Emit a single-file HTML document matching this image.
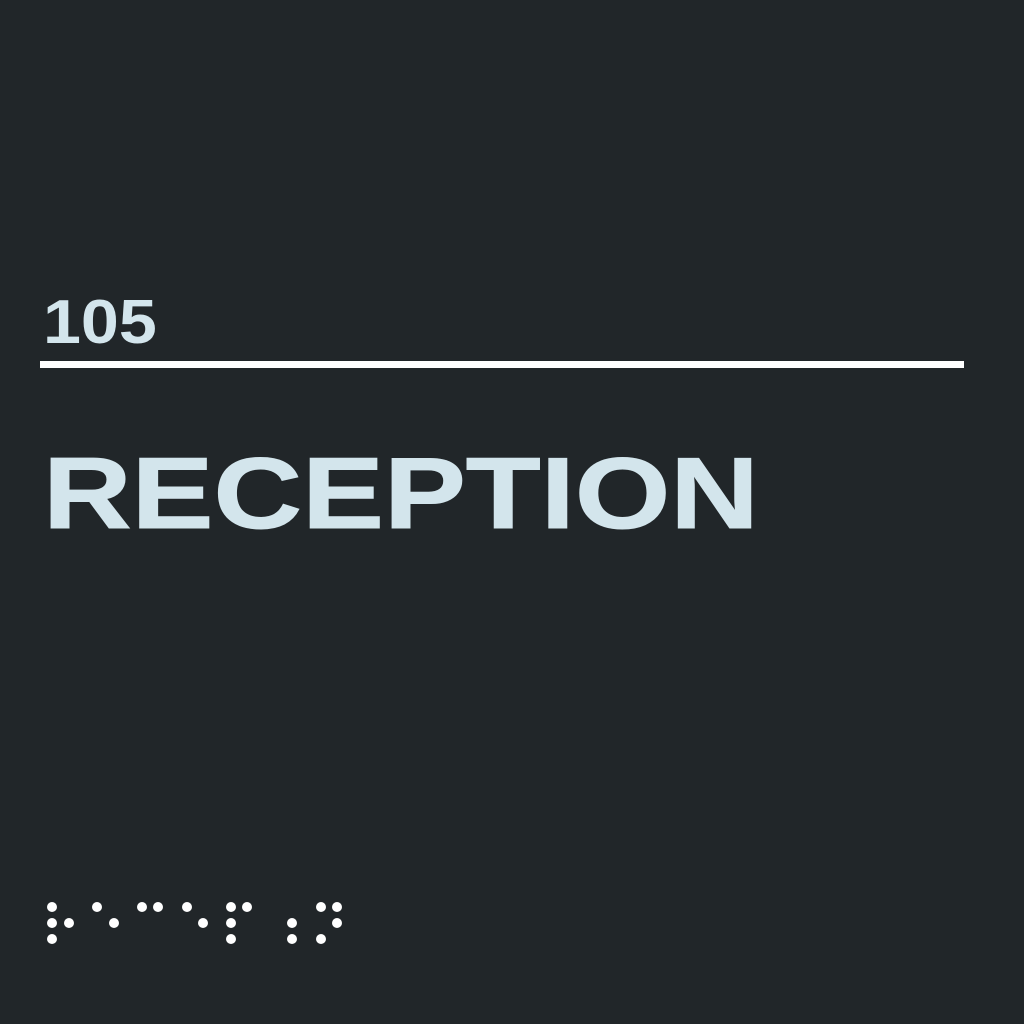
<!DOCTYPE html>
<html><head><meta charset="utf-8"><style>
html,body{margin:0;padding:0;}
body{width:1024px;height:1024px;background:#212629;position:relative;overflow:hidden;font-family:"Liberation Sans",Arial,sans-serif;}
.t{position:absolute;color:#d3e5ec;font-weight:bold;white-space:nowrap;transform-origin:0 0;line-height:1;}
</style></head><body>
<div class="t" style="left:43px;top:292px;font-size:62px;transform:scaleX(1.1);">105</div>
<div style="position:absolute;left:40px;top:361px;width:924px;height:7px;background:#fff;"></div>
<div class="t" style="left:43px;top:444px;font-size:101px;transform:scaleX(1.215);-webkit-text-stroke:1px #d3e5ec;">RECEPTION</div>
<svg width="1024" height="1024" style="position:absolute;left:0;top:0" fill="#fff">
<g>
<circle cx="52" cy="907" r="5"/><circle cx="52" cy="923" r="5"/><circle cx="69" cy="923" r="5"/><circle cx="52" cy="939" r="5"/>
<circle cx="97" cy="907" r="5"/><circle cx="114" cy="923" r="5"/>
<circle cx="142" cy="907" r="5"/><circle cx="158" cy="907" r="5"/>
<circle cx="187" cy="907" r="5"/><circle cx="203" cy="923" r="5"/>
<circle cx="231" cy="907" r="5"/><circle cx="247" cy="907" r="5"/><circle cx="231" cy="923" r="5"/><circle cx="231" cy="939" r="5"/>
<circle cx="292" cy="923" r="5"/><circle cx="292" cy="939" r="5"/>
<circle cx="321" cy="907" r="5"/><circle cx="337" cy="907" r="5"/><circle cx="337" cy="923" r="5"/><circle cx="321" cy="939" r="5"/>
</g></svg>
</body></html>
